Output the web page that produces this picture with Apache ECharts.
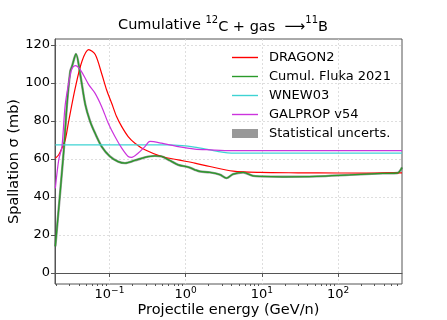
<!DOCTYPE html>
<html>
<head>
    <meta charset="utf-8" />
    <title>Cumulative 12C + gas -> 11B</title>
    <script type="text/javascript" src="https://cdn.jsdelivr.net/npm/echarts@6/dist/echarts.min.js"></script>
    <style>
        html, body { margin: 0; padding: 0; background: #fff; }
    </style>
</head>
<body>
    <div id="main" style="width: 447px;height: 320px;"></div>
    <script type="text/javascript">
        // energies in GeV/n, cross sections in mb
        var dragonE = [0.0195, 0.0216, 0.0238, 0.0263, 0.0292, 0.0356, 0.0436, 0.0534, 0.0651, 0.0797, 0.0919, 0.107, 0.124, 0.145, 0.176, 0.216, 0.292, 0.483, 0.798, 1.32, 2.08, 4.2, 9.4, 30, 100, 300, 690];
        var dragonS = [60.4, 62.2, 65.7, 70.0, 79.9, 97.4, 111.4, 117.5, 114.9, 104.4, 96.3, 89.3, 82.3, 77.0, 71.8, 68.3, 64.8, 61.3, 59.5, 57.8, 56.0, 53.6, 52.9, 52.7, 52.6, 52.6, 52.7];

        var flukaE = [0.0195, 0.0251, 0.0277, 0.0306, 0.0323, 0.0364, 0.0414, 0.0482, 0.0555, 0.0646, 0.0791, 0.1015, 0.130, 0.160, 0.216, 0.292, 0.395, 0.483, 0.621, 0.798, 1.08, 1.32, 1.54, 2.08, 2.81, 3.43, 4.2, 5.68, 7.68, 9.4, 19, 52, 142, 387, 600, 690];
        var flukaS = [14, 64, 88.6, 106.1, 108.8, 115.2, 104.4, 88.6, 80.0, 73.6, 66.5, 61.3, 58.6, 57.8, 59.2, 60.8, 61.6, 61.3, 59.2, 56.9, 55.7, 54.3, 53.4, 52.9, 51.7, 49.9, 52.0, 52.9, 51.1, 50.8, 50.6, 50.8, 51.6, 52.4, 52.6, 55.5];

        var wnewE = [0.0195, 0.6, 0.9, 1.3, 2.0, 3.0, 4.0, 690];
        var wnewS = [67.4, 67.4, 67.0, 66.2, 64.9, 63.6, 63.1, 63.1];

        var galpropE = [0.0195, 0.0216, 0.0238, 0.0263, 0.0306, 0.0326, 0.0356, 0.0414, 0.0534, 0.0646, 0.0791, 0.0965, 0.118, 0.145, 0.176, 0.195, 0.239, 0.292, 0.340, 0.483, 0.798, 1.32, 2.08, 4.0, 690];
        var galpropS = [44.5, 59.5, 66.5, 88.6, 104.4, 107.9, 109.1, 107.0, 99.1, 94.6, 87.5, 78.8, 71.8, 65.7, 61.3, 60.8, 63.1, 66.5, 69.2, 68.3, 66.5, 65.2, 64.8, 64.4, 64.4];

        var xTicks = [0.1, 1, 10, 100];
        var yTicks = [0, 20, 40, 60, 80, 100, 120];

        function pairs(xs, ys) {
            return xs.map(function (x, i) { return [x, ys[i]]; });
        }

        // minor log ticks 2..9 per decade
        var minorTicks = [];
        for (var d = -2; d <= 2; d++) {
            for (var k = 2; k <= 9; k++) {
                var v = k * Math.pow(10, d);
                if (v > 0.0193 && v < 690) minorTicks.push(+v.toPrecision(3));
            }
        }

        var font = 'DejaVu Sans';
        var gridLine = { show: true, lineStyle: { color: '#d6d6d6', type: [2, 2], width: 0.8 } };
        // thin horizontal bar inside a 26x9 box, for line legend handles
        var lineIcon = 'path://M0,0M26,9M0,3.8L26,3.8L26,5.2L0,5.2Z';

        var myChart = echarts.init(document.getElementById('main'));
        myChart.setOption({
            animation: false,
            title: {
                text: 'Cumulative {s|12}{b|C + gas } {b|\u27F6}{s|11}{b|B}',
                left: 218, top: 10, textAlign: 'center',
                textStyle: {
                    rich: {
                        b: { fontFamily: font, fontSize: 14.5, color: '#000', lineHeight: 20, verticalAlign: 'bottom' },
                        s: { fontFamily: font, fontSize: 10, color: '#000', lineHeight: 11, verticalAlign: 'top' }
                    },
                    fontFamily: font, fontSize: 14.5, color: '#000', fontWeight: 'normal', lineHeight: 20
                }
            },
            legend: {
                orient: 'vertical', left: 227, top: 46,
                itemWidth: 26, itemHeight: 9, itemGap: 6,
                textStyle: { fontFamily: font, fontSize: 13, color: '#000', padding: [0, 0, 0, 6] },
                data: [
                    { name: 'DRAGON2', icon: lineIcon },
                    { name: 'Cumul. Fluka 2021', icon: lineIcon },
                    { name: 'WNEW03', icon: lineIcon },
                    { name: 'GALPROP v54', icon: lineIcon },
                    { name: 'Statistical uncerts.', icon: 'rect', itemStyle: { color: '#999999', opacity: 1 } }
                ]
            },
            grid: {
                left: 55, right: 45, top: 39, bottom: 36, outerBoundsMode: 'none', containLabel: false,
                show: true, borderColor: '#555', borderWidth: 1, backgroundColor: 'transparent'
            },
            xAxis: [{
                type: 'log', logBase: 10, min: 0.0193, max: 690,
                name: 'Projectile energy (GeV/n)', nameLocation: 'middle', nameGap: 19, nameMoveOverlap: false,
                nameTextStyle: { fontFamily: font, fontSize: 14.5, color: '#000' },
                axisLine: { show: true, lineStyle: { color: '#555', width: 1 } },
                axisTick: { show: true, length: 4, customValues: xTicks, lineStyle: { color: '#555' } },
                axisLabel: {
                    customValues: xTicks, margin: 2,
                    formatter: function (v) {
                        var p = Math.round(Math.log10(v));
                        return '{b|10}{s|' + (p < 0 ? '\u2212' + (-p) : p) + '}';
                    },
                    rich: {
                        b: { fontFamily: font, fontSize: 13, color: '#000', lineHeight: 15, verticalAlign: 'bottom' },
                        s: { fontFamily: font, fontSize: 9, color: '#000', lineHeight: 9, verticalAlign: 'top' }
                    }
                },
                splitLine: gridLine
            }, {
                type: 'log', logBase: 10, min: 0.0193, max: 690, position: 'bottom',
                axisLine: { show: false },
                axisTick: { show: true, length: 2, customValues: minorTicks, lineStyle: { color: '#555' } },
                axisLabel: { show: false },
                splitLine: { show: false }
            }],
            yAxis: {
                type: 'value', min: -5.8, max: 123.1,
                name: 'Spallation \u03C3 (mb)', nameLocation: 'middle', nameGap: 33, nameRotate: 90, nameMoveOverlap: false,
                nameTextStyle: { fontFamily: font, fontSize: 14.5, color: '#000' },
                axisLine: { show: true, lineStyle: { color: '#555', width: 1 } },
                axisTick: { show: true, length: 4, customValues: yTicks, lineStyle: { color: '#555' } },
                axisLabel: { customValues: yTicks, fontFamily: font, fontSize: 13, color: '#000', margin: 5 },
                splitLine: gridLine
            },
            series: [{
                name: 'Statistical uncerts.', type: 'line', data: pairs(flukaE, flukaS),
                showSymbol: false, symbol: 'none', smooth: 0.3, z: 1,
                itemStyle: { color: '#999999' },
                lineStyle: { color: '#555555', width: 2.4, opacity: 0.6 }
            }, {
                name: 'DRAGON2', type: 'line', data: pairs(dragonE, dragonS),
                showSymbol: false, symbol: 'none', smooth: 0.3, z: 2,
                itemStyle: { color: '#ff0000' }, lineStyle: { color: '#ff0000', width: 1.2 }
            }, {
                name: 'Cumul. Fluka 2021', type: 'line', data: pairs(flukaE, flukaS),
                showSymbol: false, symbol: 'none', smooth: 0.3, z: 3,
                itemStyle: { color: '#2a9a2a' }, lineStyle: { color: '#2a9a2a', width: 1.3 }
            }, {
                name: 'WNEW03', type: 'line', data: pairs(wnewE, wnewS),
                showSymbol: false, symbol: 'none', smooth: 0.3, z: 3,
                itemStyle: { color: '#3fd3d3' }, lineStyle: { color: '#3fd3d3', width: 1.3 }
            }, {
                name: 'GALPROP v54', type: 'line', data: pairs(galpropE, galpropS),
                showSymbol: false, symbol: 'none', smooth: 0.3, z: 4,
                itemStyle: { color: '#cc33dd' }, lineStyle: { color: '#cc33dd', width: 1.2 }
            }]
        });
    </script>
</body>
</html>
